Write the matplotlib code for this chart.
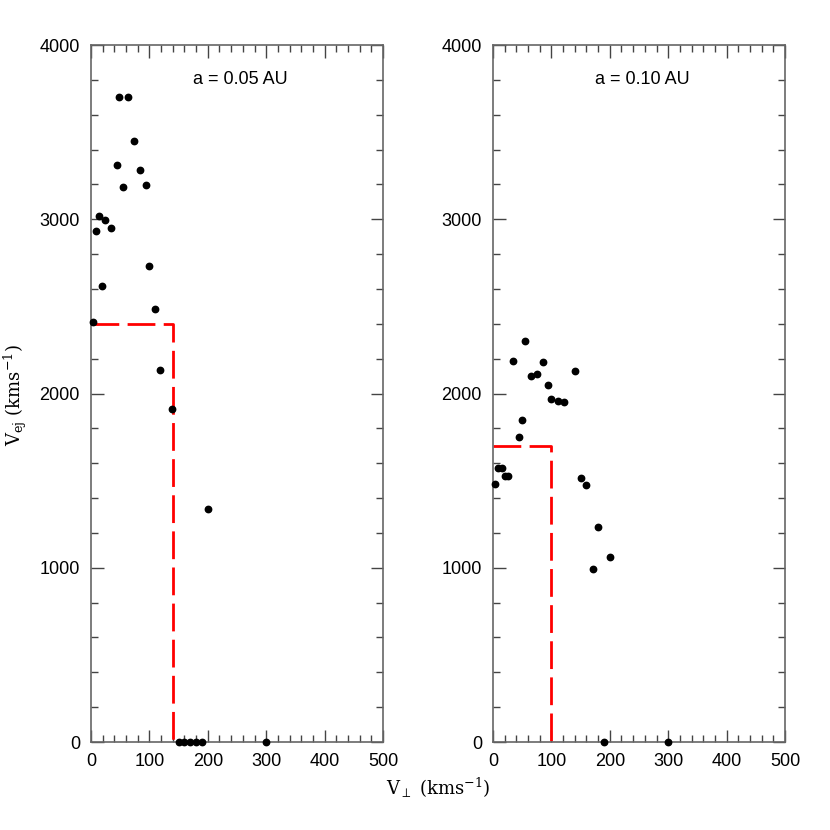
import matplotlib.pyplot as plt
from matplotlib.ticker import MultipleLocator

plt.rcParams['font.family'] = ['Liberation Sans', 'DejaVu Sans']
plt.rcParams['mathtext.fontset'] = 'dejavuserif'

# a = 0.05 AU
vperp_05 = [48, 64, 74, 44, 84, 54, 94, 14, 24, 9, 34, 99, 19, 109, 3, 119, 139, 200,
            150, 160, 170, 180, 190, 300]
vej_05 = [3700, 3700, 3450, 3310, 3285, 3185, 3195, 3020, 2995, 2935, 2950, 2730, 2615,
          2485, 2410, 2135, 1910, 1340, 0, 0, 0, 0, 0, 0]
cut_05 = (140, 2400)

# a = 0.10 AU
vperp_10 = [55, 35, 85, 65, 75, 141, 95, 100, 111, 121, 50, 45, 9, 15, 20, 25, 4, 150,
            160, 180, 200, 172, 190, 300]
vej_10 = [2300, 2185, 2180, 2100, 2110, 2130, 2050, 1970, 1955, 1950, 1850, 1750, 1575,
          1575, 1525, 1525, 1480, 1515, 1475, 1235, 1060, 995, 0, 0]
cut_10 = (100, 1700)

panels = [('a = 0.05 AU', vperp_05, vej_05, cut_05),
          ('a = 0.10 AU', vperp_10, vej_10, cut_10)]

fig = plt.figure(figsize=(8.3, 8.3), dpi=100)
lefts = [91 / 830, 493 / 830]

for left, (title, xs, ys, cut) in zip(lefts, panels):
    ax = fig.add_axes([left, 0.106, 292 / 830, 697 / 830])
    ax.plot(xs, ys, 'o', color='black', markersize=4.6, clip_on=False, zorder=3)
    # dashed cut-off box
    ax.plot([0, cut[0], cut[0]], [cut[1], cut[1], 0], color='red', lw=2,
            dashes=(10, 3), zorder=2)
    ax.set_xlim(0, 500)
    ax.set_ylim(0, 4000)
    ax.xaxis.set_major_locator(MultipleLocator(100))
    ax.xaxis.set_minor_locator(MultipleLocator(20))
    ax.yaxis.set_major_locator(MultipleLocator(1000))
    ax.yaxis.set_minor_locator(MultipleLocator(200))
    ax.tick_params(which='both', direction='in', top=True, right=True,
                   color='#444444', labelsize=13, width=1)
    ax.tick_params(which='major', length=9, pad=8)
    ax.tick_params(which='minor', length=5)
    for s in ax.spines.values():
        s.set_color('#666666')
        s.set_linewidth(1.2)
    ax.text(255, 3800, title, ha='center', va='center', fontsize=13)

fig.text(15 / 830, 1 - 395 / 830, r'V$_{\rm ej}$ (kms$^{-1}$)', rotation=90,
         ha='center', va='center', fontsize=13, family='DejaVu Serif')
fig.text(438 / 830, 1 - 788 / 830, r'V$_{\perp}$ (kms$^{-1}$)',
         ha='center', va='center', fontsize=13, family='DejaVu Serif')

fig.savefig('out.png', dpi=100)
